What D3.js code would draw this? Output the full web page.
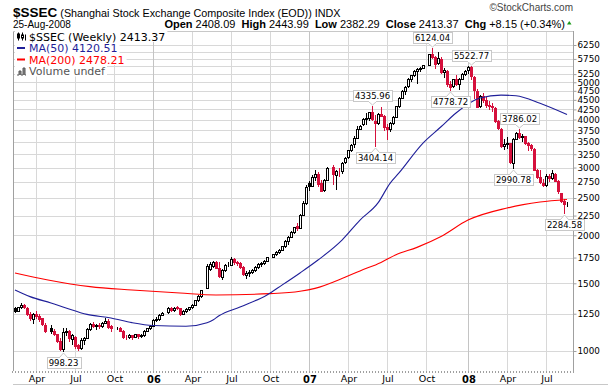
<!DOCTYPE html>
<html><head><meta charset="utf-8">
<script src="https://cdn.jsdelivr.net/npm/d3@7"></script>
<style>
html,body{margin:0;padding:0;background:#fff;}
svg{display:block;}
</style></head><body>
<svg id="chart" width="608" height="388"></svg>
<script>
// ---------- DATA ----------
const symbol = "$SSEC";
const title = "(Shanghai Stock Exchange Composite Index (EOD))";
const exchange = "INDX";
const lastDate = "25-Aug-2008";
const quote = [["Open","2408.09"],["High","2443.99"],["Low","2382.29"],["Close","2413.37"],["Chg","+8.15 (+0.34%)"]];
const firstWeek = new Date(2005, 1, 14); // weekly bars, Monday of first week

const opens = [
// 2005
1290,1272,1300,1318,1295,1250,1210,1250,1232,1215,1170,null,1150,1128,1105,1060,1010,1118,1125,1075,1090,1035,1020,1070,1082,1140,1178,1160,1165,1160,1185,1195,1160,null,1150,1148,1128,1090,1085,1098,1090,1105,1095,1100,1130,1145,
// 2006
1163,1205,1210,1242,null,1262,1292,1280,1298,1290,1250,1270,1285,1300,1320,1355,1390,null,1460,1635,1660,1700,1640,1560,1620,1670,1675,1740,1700,1690,1650,1575,1600,1605,1620,1650,1680,1690,1715,null,1760,1785,1810,1835,1870,1930,1980,2045,2110,2090,2260,2420,
// 2007
2728,2690,2840,2880,2730,2620,2790,null,3010,2870,2940,2930,3095,3190,3325,3450,3590,3790,3900,4010,4040,4190,3960,3920,4140,4080,3820,3790,3920,4060,4350,4560,4750,4880,5110,5230,5360,5420,5460,null,5560,5920,5810,5600,5760,5310,5360,4950,4880,5090,4940,5110,
// 2008
5265,5370,5490,5170,4750,4330,4600,4500,4360,4350,4290,3960,3790,3410,3450,3470,3090,3560,3700,3610,3620,3470,3440,3360,2950,2830,2740,2700,2860,2820,2890,2770,2570,2450,2408.09];
const highs = [
1302,1305,1330,1328,1300,1262,1255,1272,1250,1220,1185,null,1168,1140,1110,1080,1148,1145,1135,1110,1095,1045,1080,1085,1150,1185,1190,1175,1180,1190,1222,1212,1165,null,1156,1152,1135,1100,1105,1102,1110,1108,1110,1135,1150,1165,
1210,1225,1250,1265,null,1300,1305,1300,1306,1295,1275,1290,1305,1325,1360,1400,1445,null,1680,1700,1710,1710,1700,1630,1680,1700,1757,1750,1710,1700,1660,1610,1620,1630,1660,1690,1700,1720,1760,null,1790,1815,1845,1880,1940,1990,2050,2100,2150,2270,2450,2700,
2760,2870,2960,2915,2790,2800,3010,null,3050,2960,2990,3100,3200,3330,3450,3630,3850,3860,4040,4160,4190,4335.96,4100,4150,4312,4110,3900,3950,4080,4350,4570,4760,4900,5120,5220,5390,5450,5480,5560,null,5910,6124.04,5840,6005,5800,5450,5380,5030,5100,5210,5120,5270,
5370,5500,5522.77,5200,4800,4620,4680,4580,4470,4410,4300,3990,3800,3560,3600,3480,3580,3710,3786.02,3660,3630,3500,3450,3370,2980,2950,2800,2880,2890,2950,2900,2780,2580,2490,2443.99];
const lows = [
1262,1268,1290,1290,1240,1205,1185,1220,1200,1165,1120,null,1115,1100,1055,1005,998.23,1100,1060,1045,1020,1004,1015,1045,1078,1135,1155,1140,1150,1155,1180,1150,1130,null,1138,1125,1080,1075,1080,1075,1085,1080,1085,1095,1125,1140,
1160,1195,1205,1240,null,1255,1270,1270,1285,1240,1245,1265,1280,1295,1315,1350,1385,null,1455,1620,1650,1640,1555,1540,1610,1660,1670,1680,1670,1640,1580,1545,1570,1595,1615,1645,1660,1680,1710,null,1755,1780,1800,1830,1865,1900,1975,2030,2060,2085,2255,2415,
2630,2680,2790,2690,2600,2610,2780,null,2720,2640,2860,2900,3080,3180,3310,3400,3580,3780,3880,3890,4000,3990,3404.14,3900,4080,3760,3563,3740,3900,4050,4320,4540,4650,4860,5050,5190,4980,5350,5430,null,5550,5780,5460,5580,5280,5170,4900,4778.72,4860,4930,4800,5090,
5230,5300,5100,4560,4300,4320,4450,4300,4250,4220,3940,3780,3400,3350,3380,3080,2990.78,3550,3580,3520,3450,3330,3330,2950,2820,2740,2690,2680,2770,2800,2760,2580,2440,2284.58,2382.29];
const closes = [
1270,1300,1315,1298,1250,1215,1245,1230,1210,1175,1125,null,1130,1110,1060,1015,1120,1130,1080,1100,1030,1020,1070,1080,1140,1175,1160,1170,1162,1185,1195,1158,1145,null,1149,1130,1090,1085,1100,1090,1105,1095,1100,1130,1145,1161,
1205,1210,1240,1258,null,1290,1280,1295,1292,1250,1270,1285,1298,1320,1355,1390,1440,null,1665,1680,1700,1645,1565,1620,1670,1672,1740,1700,1690,1650,1590,1600,1605,1620,1650,1680,1690,1715,1752,null,1785,1810,1835,1870,1930,1980,2045,2099,2090,2260,2420,2675,
2690,2830,2880,2720,2612,2790,2998,null,2881,2937,2930,3092,3184,3323,3444,3584,3780,3841,4013,4030,4181,4001,3913,4132,4091,3821,3781,3914,4058,4345,4560,4749,4870,5107,5218,5355,5421,5454,5552,null,5913,5818,5589,5777,5316,5368,4958,4871,5091,4945,5101,5262,
5361,5485,5180,4762,4321,4600,4498,4370,4349,4301,3963,3797,3411,3446,3473,3095,3558,3693,3613,3626,3473,3433,3379,2958,2831,2748,2704,2860,2818,2900,2776,2605,2450,2405.22,2413.37];

// moving averages (week index, value)
const ma50Weeks  = [0,5,12,17,24,32,39,46,57,64,66,68,75,84,89,95,101,109,115,121,125,128,136,142,147,155,162,167,175,184];
const ma50Values = [1441,1385,1333,1294,1245,1219,1185,1165,1160,1185,1204,1235,1302,1399,1484,1596,1724,1943,2190,2427,2730,2906,3474,3830,4160,4550,4630,4610,4410,4120.51];
const ma200Weeks  = [0,11,25,39,55,67,85,95,100,110,115,122,127,134,142,151,164,175,184];
const ma200Values = [1596,1530,1470,1441,1415,1399,1410,1430,1455,1555,1615,1700,1780,1860,1985,2190,2354,2440,2478.21];

const yTickValues  = [1000,1250,1500,1750,2000,2250,2500,2750,3000,3250,3500,3750,4000,4250,4500,4750,5000,5250,5500,5750,6000,6250];
const yLabelValues = [1000,1250,1500,1750,2000,2250,2500,2750,3000,3250,3500,3750,4000,4250,4500,4750,5000,5250,5750,6250];
const monthNames = ["Jan","Feb","Mar","Apr","May","Jun","Jul","Aug","Sep","Oct","Nov","Dec"];
const peakWeeks   = [119,139,152,168];
const troughWeeks = [16,120,145,166,183];
const legendItems = [
  {kind:"price", text:"$SSEC (Weekly) 2413.37", color:"#000"},
  {kind:"line",  text:"MA(50) 4120.51", color:"#1f1f99"},
  {kind:"line",  text:"MA(200) 2478.21", color:"#ff0000"},
  {kind:"vol",   text:"Volume undef", color:"#555"}
];

// ---------- LAYOUT ----------
const P = {l:13, r:573, t:31, b:371};
const RED = "#d5103c", BLK = "#000";
const svg = d3.select("#chart");
svg.append("rect").attr("width",608).attr("height",388).attr("fill","#fff");

const n = closes.length;
const weeks = d3.range(n).map(i => d3.timeMonday.offset(firstWeek, i));
const x = d3.scaleLinear().domain([0, n-1]).range([15, 567]);
const y = d3.scaleLog().domain([1000, 6250]).range([351, 45]);
const cx = i => Math.round(x(i));

// quarter ticks: first weekly bar that starts in Jan/Apr/Jul/Oct
const qTicks = d3.range(n).filter(i => weeks[i].getMonth()%3===0 && weeks[i].getDate()<=7);

// grid
const grid = svg.append("g").attr("shape-rendering","crispEdges");
grid.selectAll(".hg").data(yTickValues).join("line")
  .attr("x1",P.l).attr("x2",P.r)
  .attr("y1",d=>Math.round(y(d))+0.5).attr("y2",d=>Math.round(y(d))+0.5)
  .attr("stroke","#d8d8d8");
grid.selectAll(".vg").data(qTicks).join("line")
  .attr("x1",i=>cx(i)+0.5).attr("x2",i=>cx(i)+0.5)
  .attr("y1",P.t).attr("y2",P.b)
  .attr("stroke",i=>weeks[i].getMonth()===0 ? "#c4c4c4" : "#d8d8d8");

// frame
svg.append("line").attr("x1",P.l+0.5).attr("x2",P.l+0.5).attr("y1",P.t).attr("y2",P.b).attr("stroke","#a0a0a0").attr("shape-rendering","crispEdges");
svg.append("line").attr("x1",P.l).attr("x2",P.r).attr("y1",P.t+0.5).attr("y2",P.t+0.5).attr("stroke","#c8c8c8").attr("shape-rendering","crispEdges");
svg.append("line").attr("x1",P.r+0.5).attr("x2",P.r+0.5).attr("y1",P.t).attr("y2",P.b).attr("stroke","#a0a0a0").attr("shape-rendering","crispEdges");
// weekly dotted baseline
svg.append("g").attr("shape-rendering","crispEdges").selectAll("line").data(d3.range(-1, 187)).join("line")
  .attr("x1",i=>cx(i)+0.5).attr("x2",i=>cx(i)+0.5).attr("y1",P.b).attr("y2",P.b+2).attr("stroke","#a0a0a0");
svg.append("line").attr("x1",P.l).attr("x2",608).attr("y1",384.5).attr("y2",384.5).attr("stroke","#c8c8c8");

// right axis
const yAxis = d3.axisRight(y).tickValues(yLabelValues).tickFormat(d3.format("d")).tickSize(3).tickPadding(1);
const ya = svg.append("g").attr("transform",`translate(${P.r+0.5},0)`).call(yAxis);
ya.select(".domain").remove();
ya.selectAll("line").attr("stroke","#a0a0a0");
ya.selectAll("text").attr("font-family","DejaVu Sans, Verdana, sans-serif").attr("font-size",8.8).attr("fill","#000");

// bottom axis
const xAxis = d3.axisBottom(x).tickValues(qTicks).tickSize(0).tickPadding(4)
  .tickFormat(i => weeks[i].getMonth()===0 ? String(weeks[i].getFullYear()).slice(2) : monthNames[weeks[i].getMonth()]);
const xa = svg.append("g").attr("transform",`translate(0.5,${P.b})`).call(xAxis);
xa.select(".domain").remove();
xa.selectAll("text").attr("font-family","DejaVu Sans, Verdana, sans-serif").attr("font-size",9.5).attr("fill","#000")
  .filter(i => weeks[i].getMonth()===0)
  .attr("font-family","Liberation Sans Narrow, DejaVu Sans Condensed, sans-serif").attr("font-weight","bold").attr("font-size",11);

// candles
const bars = d3.range(n).filter(i => closes[i] != null);
const prevClose = {};
let last = null;
bars.forEach(i => { prevClose[i] = last; last = closes[i]; });
const colorOf = i => (prevClose[i] != null && closes[i] < prevClose[i]) ? RED : BLK;
const cg = svg.append("g").attr("shape-rendering","crispEdges");
const c = cg.selectAll("g").data(bars).join("g");
c.append("line")
  .attr("x1",i=>cx(i)+0.5).attr("x2",i=>cx(i)+0.5)
  .attr("y1",i=>Math.round(y(highs[i]))).attr("y2",i=>Math.round(y(lows[i]))+1)
  .attr("stroke",colorOf);
c.append("rect")
  .attr("x",i=>cx(i)-0.5).attr("width",2)
  .attr("y",i=>Math.round(y(Math.max(opens[i],closes[i])))+0.5)
  .attr("height",i=>Math.max(0, Math.round(y(Math.min(opens[i],closes[i]))) - Math.round(y(Math.max(opens[i],closes[i])))))
  .attr("fill",i=> closes[i] < opens[i] ? colorOf(i) : "#fff")
  .attr("stroke",colorOf);

// moving averages
const line = d3.line().x(d=>x(d[0])).y(d=>y(d[1])).curve(d3.curveMonotoneX);
svg.append("path").datum(d3.zip(ma200Weeks, ma200Values)).attr("d",line)
  .attr("fill","none").attr("stroke","#ff0000").attr("stroke-width",1.1);
svg.append("path").datum(d3.zip(ma50Weeks, ma50Values)).attr("d",line)
  .attr("fill","none").attr("stroke","#1f1f99").attr("stroke-width",1.1);

// annotations
const fmt = d3.format(".2f");
function callout(i, v, above){
  const g = svg.append("g");
  const px = cx(i)+0.5, py = y(v);
  const t = g.append("text").attr("x",px).attr("text-anchor","middle")
    .attr("font-family","DejaVu Sans, Verdana, sans-serif").attr("font-size",8.5).attr("fill","#000")
    .text(fmt(v));
  const tw = t.node().getComputedTextLength();
  const bw = Math.round(tw)+4, bh = 11;
  const bx = Math.round(px - bw/2)+0.5;
  let by, tip, base;
  if (above){ by = Math.round(py) - 5 - bh + 0.5; base = by + bh; tip = Math.round(py) - 1; }
  else { by = Math.round(py) + 6 + 0.5; base = by; tip = Math.round(py) + 2; }
  g.insert("rect","text").attr("x",bx).attr("y",by).attr("width",bw).attr("height",bh)
    .attr("fill","#fff").attr("stroke","#c8c8c8");
  g.insert("path","text").attr("d",`M${px-4},${base} L${px},${tip} L${px+4},${base}`)
    .attr("fill","#fff").attr("stroke","#c8c8c8");
  g.insert("line","text").attr("x1",px-3.5).attr("x2",px+3.5).attr("y1",base).attr("y2",base).attr("stroke","#fff");
  t.attr("y", by + 8.5);
}
peakWeeks.forEach(i => callout(i, highs[i], true));
troughWeeks.forEach(i => callout(i, lows[i], false));

// legend
const lg = svg.append("g");
const lgBase = [40.5, 52, 63.5, 75];
legendItems.forEach((d,k) => {
  const t = lg.append("text").attr("x",29).attr("y",lgBase[k])
    .attr("font-family","DejaVu Sans, Verdana, sans-serif").attr("font-size",11).attr("fill",d.color).text(d.text);
  const w = t.node().getComputedTextLength();
  lg.insert("rect","text").attr("x",15).attr("y",lgBase[k]-10).attr("width",w+16).attr("height",11.5).attr("fill","#fff");
  const cyk = lgBase[k]-4;
  if (d.kind==="line"){
    lg.append("rect").attr("x",17).attr("y",cyk-1).attr("width",8).attr("height",2).attr("fill",d.color);
  } else if (d.kind==="price"){
    lg.append("path").attr("d",`M18.5,${cyk-4} V${cyk+4} M22.5,${cyk-4} V${cyk+4} M25.5,${cyk-2} V${cyk+4}`).attr("stroke","#000").attr("fill","none");
    lg.append("rect").attr("x",17.5).attr("y",cyk-2.5).attr("width",2).attr("height",4).attr("fill","#000").attr("stroke","#000");
    lg.append("rect").attr("x",21.5).attr("y",cyk-1.5).attr("width",2).attr("height",3).attr("fill","#fff").attr("stroke","#000");
  } else {
    lg.append("path").attr("d",`M17,${cyk+4} h2 v-4 h2 v4 h2 v-7 h2 v7 h1`).attr("stroke","#555").attr("fill","#888");
  }
});

// header
const hf = "Liberation Sans, Arial, sans-serif";
const h1 = svg.append("text").attr("x",13).attr("y",16.5).attr("font-family",hf).attr("fill","#000");
h1.append("tspan").attr("font-weight","bold").attr("font-size",13.5).text(symbol);
h1.append("tspan").attr("font-size",10.8).text(" " + title + " " + exchange);
svg.append("text").attr("x",573).attr("y",11).attr("text-anchor","end").attr("font-family",hf)
  .attr("font-size",10).attr("fill","#444").text("\u00A9StockCharts.com");
svg.append("text").attr("x",13).attr("y",27.5).attr("font-family",hf).attr("font-size",10).attr("fill","#000").text(lastDate);
const q = svg.append("text").attr("x",565).attr("y",27.5).attr("text-anchor","end").attr("font-family",hf).attr("font-size",11).attr("fill","#000");
quote.forEach((d,k) => {
  q.append("tspan").attr("font-weight","bold").text((k?"  ":"") + d[0]);
  q.append("tspan").text(" " + d[1]);
});
q.attr("xml:space","preserve");
svg.append("path").attr("d","M567,24.5 L571.5,24.5 L569.25,21 Z").attr("fill","#1a9a1a");
</script>
</body></html>
